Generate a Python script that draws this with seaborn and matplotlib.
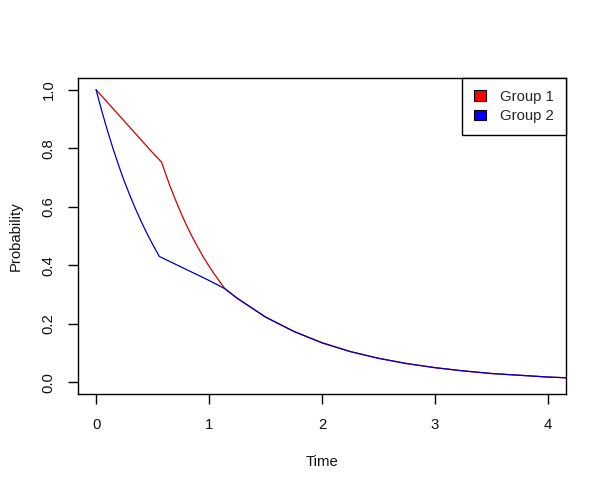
import seaborn as sns
import matplotlib.pyplot as plt
import pandas as pd
from matplotlib.patches import Patch

# values
time_g1 = [0.0, 0.1, 0.2, 0.3, 0.4, 0.5, 0.58, 0.65, 0.7, 0.75, 0.8, 0.85, 0.9, 0.95,
           1.0, 1.05, 1.1, 1.14, 1.25, 1.5, 1.75, 2.0, 2.25, 2.5, 2.75, 3.0,
           3.25, 3.5, 3.75, 4.0, 4.25]
prob_g1 = [1.0, 0.957, 0.914, 0.871, 0.828, 0.785, 0.752, 0.675, 0.626, 0.580, 0.537,
           0.498, 0.462, 0.428, 0.397, 0.368, 0.341, 0.320, 0.287, 0.223, 0.174,
           0.135, 0.105, 0.082, 0.064, 0.050, 0.039, 0.030, 0.024, 0.018, 0.014]

time_g2 = [0.0, 0.05, 0.1, 0.15, 0.2, 0.25, 0.3, 0.35, 0.4, 0.45, 0.5, 0.56,
           0.7, 0.85, 1.0, 1.14, 1.25, 1.5, 1.75, 2.0, 2.25, 2.5, 2.75, 3.0,
           3.25, 3.5, 3.75, 4.0, 4.25]
prob_g2 = [1.0, 0.928, 0.861, 0.799, 0.741, 0.687, 0.638, 0.592, 0.549, 0.509,
           0.472, 0.430, 0.404, 0.376, 0.348, 0.320, 0.287, 0.223, 0.174, 0.135,
           0.105, 0.082, 0.064, 0.050, 0.039, 0.030, 0.024, 0.018, 0.014]

groups = ['Group 1', 'Group 2']
line_colors = ['#C80000', '#0000B4']
legend_colors = ['#FF0000', '#0000FF']

df = pd.concat([
    pd.DataFrame({'Time': time_g1, 'Probability': prob_g1, 'Group': groups[0]}),
    pd.DataFrame({'Time': time_g2, 'Probability': prob_g2, 'Group': groups[1]}),
])

sns.set_style('white')
plt.rcParams['font.family'] = ['Liberation Sans', 'DejaVu Sans']
fs = 10.7

fig = plt.figure(figsize=(6.07, 4.92), dpi=100)
ax = fig.add_axes([78 / 607, 1 - 394 / 492, (566 - 78) / 607, (394 - 78) / 492])

sns.lineplot(data=df, x='Time', y='Probability', hue='Group', palette=line_colors,
             sort=False, estimator=None, linewidth=0.9, legend=False, ax=ax)

ax.set_xlim(-0.16, 4.16)
ax.set_ylim(-0.04, 1.04)
ax.set_xticks([0, 1, 2, 3, 4])
ax.set_yticks([0.0, 0.2, 0.4, 0.6, 0.8, 1.0])
ax.set_yticklabels(['0.0', '0.2', '0.4', '0.6', '0.8', '1.0'], rotation=90, va='center')

for s in ax.spines.values():
    s.set_color('black')
    s.set_linewidth(1)
ax.tick_params(direction='out', length=7, width=1, color='black', labelsize=fs,
               labelcolor='#111111', bottom=True, left=True)
ax.tick_params(axis='x', pad=10)
ax.tick_params(axis='y', pad=9)

ax.set_xlabel('Time', fontsize=fs, labelpad=17, color='#111111')
ax.set_ylabel('Probability', fontsize=fs, labelpad=14, color='#111111')

handles = [Patch(facecolor=c, edgecolor='black', linewidth=0.8) for c in legend_colors]
leg = ax.legend(handles, groups, loc='upper right', borderaxespad=0, fancybox=False,
                framealpha=1, edgecolor='black', fontsize=fs, handlelength=0.8,
                handleheight=0.7, borderpad=0.8, labelspacing=0.35, handletextpad=0.95)
leg.get_frame().set_linewidth(1)

fig.savefig('out.png', dpi=100)
